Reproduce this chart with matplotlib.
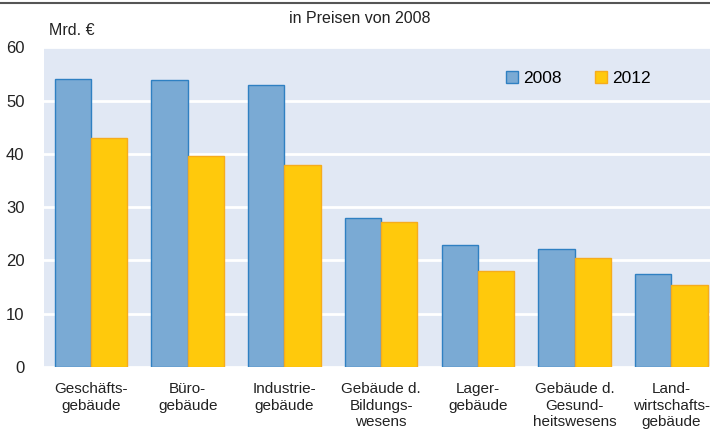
import matplotlib.pyplot as plt
import numpy as np
from matplotlib.lines import Line2D

categories = ['Geschäfts-\ngebäude', 'Büro-\ngebäude', 'Industrie-\ngebäude',
              'Gebäude d.\nBildungs-\nwesens', 'Lager-\ngebäude',
              'Gebäude d.\nGesund-\nheitswesens', 'Land-\nwirtschafts-\ngebäude']
values_2008 = [54.0, 53.9, 53.0, 27.9, 22.9, 22.2, 17.4]
values_2012 = [43.0, 39.5, 37.9, 27.3, 18.1, 20.4, 15.4]
yticks = [0, 10, 20, 30, 40, 50, 60]

plt.rcParams['font.family'] = ['Liberation Sans', 'DejaVu Sans']

fig = plt.figure(figsize=(7.1, 4.37), dpi=100)
ax = fig.add_axes([0.062, 0.160, 0.938, 0.732])
ax.set_facecolor('#e1e8f4')

x = np.arange(len(categories))
w = 0.375
ax.bar(x - w / 2, values_2008, w, color='#7aaad4', edgecolor='#2f80c2',
       linewidth=1.0, label='2008', zorder=3)
ax.bar(x + w / 2, values_2012, w, color='#ffc90c', edgecolor='#f6ac1c',
       linewidth=1.0, label='2012', zorder=3)

ax.set_xlim(-0.486, 6.40)
ax.set_ylim(0, 60)
ax.set_yticks(yticks)
ax.set_xticks(x)
ax.set_xticklabels(categories, fontsize=11, color='#222222', linespacing=1.2)
ax.tick_params(axis='both', length=0)
ax.tick_params(axis='y', labelsize=12, pad=14, colors='#222222')
ax.tick_params(axis='x', pad=11)
ax.yaxis.grid(True, color='white', linewidth=2, zorder=1)
ax.set_axisbelow(True)
for s in ax.spines.values():
    s.set_visible(False)

leg = ax.legend(loc='upper right', bbox_to_anchor=(0.935, 0.975), ncol=2,
                frameon=False, fontsize=12.5, handlelength=0.7, handleheight=0.7,
                handletextpad=0.3, columnspacing=1.9)

fig.text(0.507, 0.958, 'in Preisen von 2008', ha='center', va='center',
         fontsize=11.5, color='#222222')
fig.text(0.069, 0.930, 'Mrd. €', ha='left', va='center', fontsize=11.5,
         color='#222222')
fig.add_artist(Line2D([0, 1], [0.993, 0.993], transform=fig.transFigure,
                      color='#555555', linewidth=1.5))

plt.savefig('out.png', dpi=100)
